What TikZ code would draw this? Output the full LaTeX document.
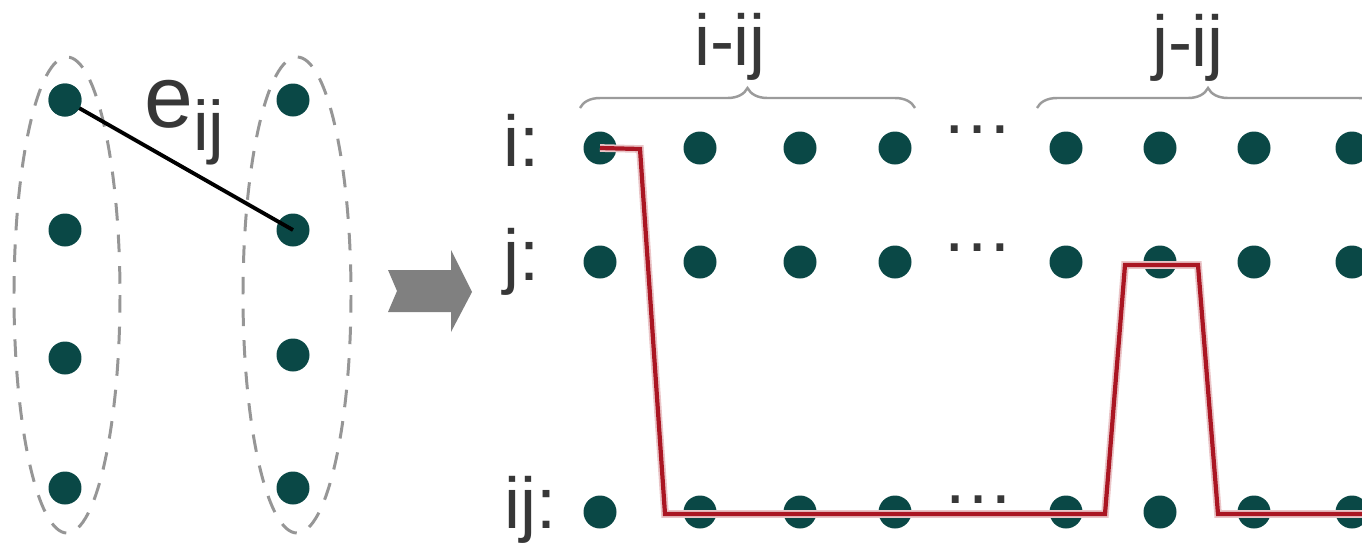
\documentclass[tikz,border=0pt]{standalone}
\usepackage{fontspec}
\setmainfont{Liberation Sans}
\usetikzlibrary{decorations.pathreplacing}
\definecolor{dotc}{RGB}{10,72,70}
\definecolor{txt}{RGB}{55,55,55}
\definecolor{ellc}{RGB}{150,150,150}
\definecolor{brc}{RGB}{155,155,155}
\definecolor{redp}{RGB}{170,22,35}
\definecolor{arrc}{RGB}{128,128,128}
\begin{document}
\begin{tikzpicture}[x=0.02cm,y=-0.02cm,
  dotn/.style={circle,fill=dotc,minimum size=0.66cm,inner sep=0pt},
  lbl/.style={text=txt,font=\fontsize{41}{45}\selectfont,inner sep=0pt,anchor=base west},
  toplbl/.style={text=txt,font=\fontsize{41}{45}\selectfont,inner sep=0pt,anchor=base},
  grp/.style={draw=ellc,line width=1.7pt,dash pattern=on 10pt off 8pt},
  edgeline/.style={draw=black,line width=2.2pt},
  bracec/.style={draw=brc,line width=1.4pt,decorate,decoration={brace,amplitude=0.4cm}},
  redline/.style={draw=redp,line width=2.4pt,line join=miter},
  redhalo/.style={draw=redp!25,line width=4.4pt},
]
\useasboundingbox (0,0) rectangle (1362,542);
\clip (0,0) rectangle (1362,542);
% group ellipses
\draw[grp] (67,295) ellipse [x radius=53, y radius=238];
\draw[grp] (297,295) ellipse [x radius=54, y radius=238];
% left graph nodes
\node[dotn] (L1) at (65,100) {};
\node[dotn] (L2) at (65,230) {};
\node[dotn] (L3) at (65,358) {};
\node[dotn] (L4) at (65,488) {};
\node[dotn] (R1) at (293,100) {};
\node[dotn] (R2) at (293,230) {};
\node[dotn] (R3) at (293,355) {};
\node[dotn] (R4) at (293,488) {};
\draw[edgeline] (L1.center) -- (R2.center);
\node[dotn] at (L1) {};
\node[text=txt,font=\fontsize{50}{54}\selectfont,inner sep=0pt,anchor=base west] (eij) at (144,127) {e\raisebox{-0.46cm}{\fontsize{40}{44}\selectfont ij}};
% arrow
\fill[arrc] (388,270) -- (451,270) -- (451,250) -- (472,292) -- (451,332) -- (451,312) -- (388,312) -- (397,291) -- cycle;
% right grid
\foreach \c/\x in {1/600,2/700,3/800,4/895,5/1066,6/1160,7/1254,8/1352}{
  \node[dotn] (i\c) at (\x,148) {};
  \node[dotn] (j\c) at (\x,262) {};
  \node[dotn] (k\c) at (\x,512) {};
}
\node[lbl] (li) at (503,166) {i:};
\node[lbl] (lj) at (503,280) {j:};
\node[lbl] (lk) at (504,528) {ij:};
\node[toplbl] (d1) at (978,133) {…};
\node[toplbl] (d2) at (978,251) {…};
\node[toplbl] (d3) at (979,503) {…};
% braces
\draw[bracec] (580,108) -- (915,108);
\draw[bracec] (1037,108) -- (1379,108);
\node[toplbl] (bi) at (730,65) {i-ij};
\node[toplbl] (bj) at (1188,66) {j-ij};
% red path
\draw[redhalo] (i1.center) -- (640,149) -- (665,514) -- (1105,514) -- (1125,265) -- (1198,265) -- (1218,514) -- (1375,514);
\draw[redline] (i1.center) -- (640,149) -- (665,514) -- (1105,514) -- (1125,265) -- (1198,265) -- (1218,514) -- (1375,514);
\end{tikzpicture}
\end{document}
